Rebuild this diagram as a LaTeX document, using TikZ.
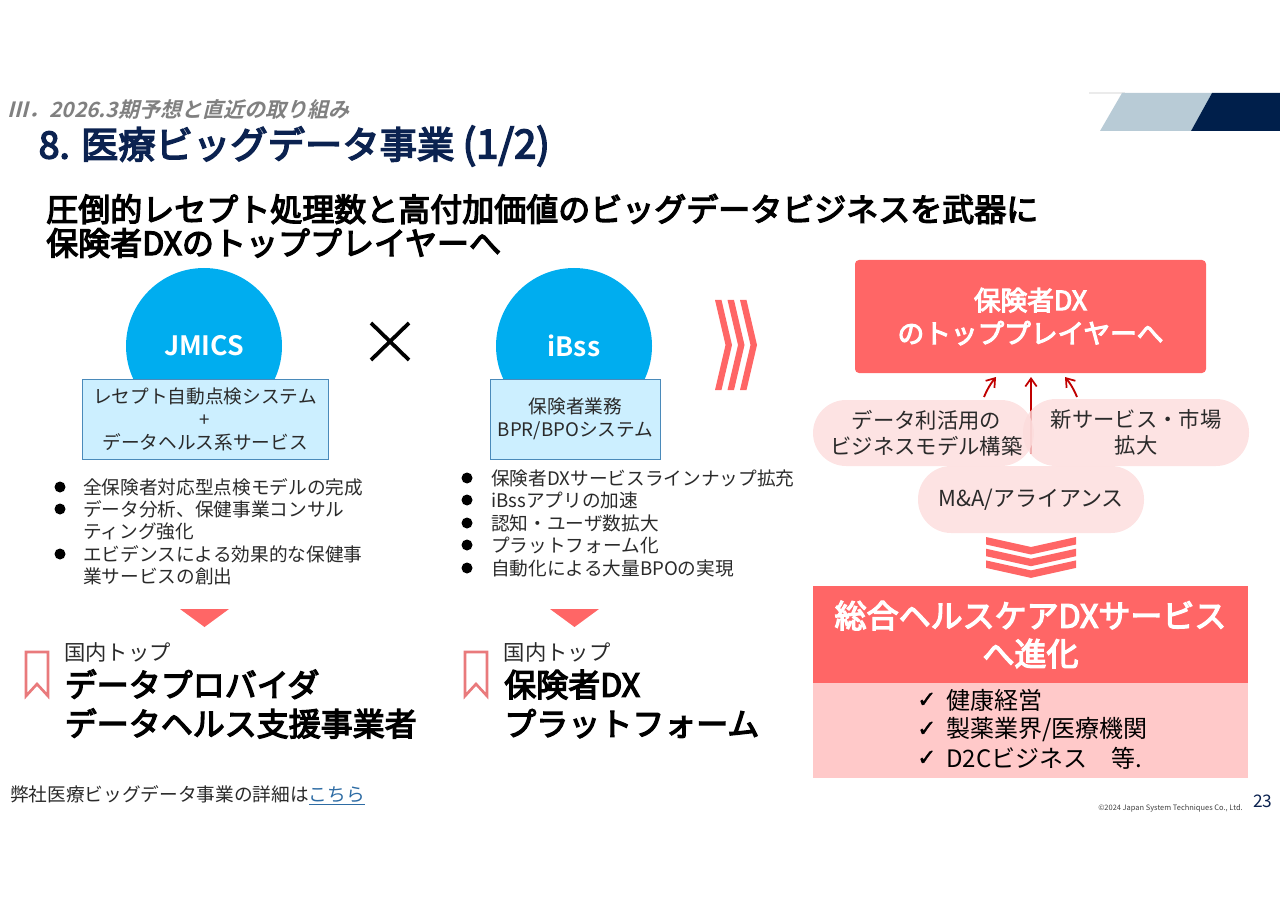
\documentclass[tikz,border=0pt]{standalone}
\usepackage{fontspec}
\usetikzlibrary{arrows.meta}
\setmainfont[BoldFont={Noto Sans CJK JP},BoldFeatures={FakeBold=4}]{Noto Sans CJK JP}
\newfontfamily\slfont[FakeSlant=0.25]{Noto Sans CJK JP Bold}
\newfontfamily\heavyfont{Noto Sans CJK JP Bold}
\newfontfamily\chkfont[FakeBold=1.5]{DejaVu Sans}
\newcommand{\tfs}[2]{\fontsize{#1}{#2}\selectfont}
\definecolor{coral}{HTML}{FF6666}
\definecolor{navy}{HTML}{0B2250}
\definecolor{band}{HTML}{001F4B}
\definecolor{bandl}{HTML}{B8CBD6}
\definecolor{sky}{HTML}{00ADEF}
\definecolor{skyl}{HTML}{CCEFFF}
\definecolor{skyb}{HTML}{4A8ABA}
\definecolor{pill}{HTML}{FCDCDC}
\definecolor{softp}{HTML}{FFC9C9}
\definecolor{arrowred}{HTML}{C00000}
\definecolor{ink}{HTML}{2A2A2A}
\definecolor{mark}{HTML}{E97A7C}
\definecolor{linkc}{HTML}{2E6CA4}
\pgfdeclarelayer{bg}
\pgfsetlayers{bg,main}
\tikzset{
  txt/.style={inner sep=0pt,anchor=west,align=left,text=ink},
  ctr/.style={inner sep=0pt,anchor=center,align=center},
  listtxt/.style={txt,font=\tfs{14}{16.9}},
  dot/.style={circle,fill=black,inner sep=0pt,minimum size=8.25pt},
  disc/.style={circle,fill=sky,inner sep=0pt,minimum size=117pt,text=white,font=\tfs{20}{24}\heavyfont},
  skybox/.style={draw=skyb,line width=0.6pt,fill=skyl,inner sep=0pt,align=center,text=ink,font=\tfs{14}{17.25}},
  pillbox/.style={fill=pill,fill opacity=.8,text opacity=1,text=ink,rounded corners=24.8pt,inner sep=0pt,align=center,font=\tfs{16}{19.5}},
  redarrow/.style={arrowred,line width=1.4pt,-{Straight Barb[length=6pt,width=8.5pt,line width=1.3pt]}},
  lead/.style={txt,text=black,font=\tfs{24}{29.25}\bfseries},
  toptag/.style={txt,font=\tfs{16}{19}},
  bookmk/.style={draw=mark,line width=2pt,miter limit=4},
  coralshape/.style={fill=coral,draw=none}
}
\begin{document}
\begin{tikzpicture}[x=0.75pt,y=-0.75pt]
\useasboundingbox (0,0) rectangle (1280,905);
% header band
\draw[color=black!8,line width=0.8pt] (1089,93) -- (1125,93);
\fill[bandl] (1122,93) -- (1212,93) -- (1191,131) -- (1100,131) -- cycle;
\fill[band] (1212,93) -- (1280,93) -- (1280,131) -- (1191,131) -- cycle;
% titles
\node[txt,text=black!50] (sub) at (7,110) {\tfs{15.75}{19}\slfont Ⅲ．2026.3期予想と直近の取り組み};
\node[txt,text=navy] (title) at (38.5,146) {\tfs{28}{33}\bfseries 8. 医療ビッグデータ事業 \tfs{30}{33}(1/2)};
\node[lead] (head1) at (46,209) {圧倒的レセプト処理数と高付加価値のビッグデータビジネスを武器に};
\node[lead] (head2) at (46,243) {保険者DXのトッププレイヤーへ};
% JMICS column
\node[disc] (cj) at (204,346) {JMICS};
\node[skybox,minimum width=184.5pt,minimum height=60pt] (bj) at (205,419) {レセプト自動点検システム\\+\\データヘルス系サービス};
\node[dot] (dj1) at (60,487) {};
\node[listtxt] (tj1) at (83,487) {全保険者対応型点検モデルの完成};
\node[dot] (dj2) at (60,509) {};
\node[listtxt] (tj2) at (83,520.5) {データ分析、保健事業コンサル\\ティング強化};
\node[dot] (dj3) at (60,554) {};
\node[listtxt] (tj3) at (83,565.5) {エビデンスによる効果的な保健事\\業サービスの創出};
% cross
\draw[line width=2.8pt,color=black] (371,323) -- (409,360) (409,323) -- (371,360);
% iBss column
\node[disc] (ci) at (574,346) {iBss};
\node[skybox,minimum width=127.5pt,minimum height=60pt] (bi) at (575.5,419) {保険者業務\\BPR/BPOシステム};
\node[dot] (di1) at (467,478) {};
\node[listtxt] (ti1) at (491,478) {保険者DXサービスラインナップ拡充};
\node[dot] (di2) at (467,500) {};
\node[listtxt] (ti2) at (491,500) {iBssアプリの加速};
\node[dot] (di3) at (467,523) {};
\node[listtxt] (ti3) at (491,523) {認知・ユーザ数拡大};
\node[dot] (di4) at (467,545) {};
\node[listtxt] (ti4) at (491,545) {プラットフォーム化};
\node[dot] (di5) at (467,568) {};
\node[listtxt] (ti5) at (491,568) {自動化による大量BPOの実現};
% right chevrons
\foreach \xo in {715,727.5,740}{
  \fill[coral] (\xo,300) -- ++(6.5,0) -- ++(10.5,45) -- ++(-10.5,45) -- ++(-6.5,0) -- ++(10.5,-45) -- cycle;
}
% down triangles
\fill[coral] (180,609) -- (229,609) -- (204.5,627) -- cycle;
\fill[coral] (550,609) -- (599,609) -- (574.5,627) -- cycle;
% bookmarks
\draw[bookmk] (26,652) -- (48,652) -- (48,696) -- (37,684) -- (26,696) -- cycle;
\draw[bookmk] (465,652) -- (487,652) -- (487,696) -- (476,684) -- (465,696) -- cycle;
% result labels
\node[toptag] (tl1) at (64,652) {国内トップ};
\node[lead] (tl2) at (64.5,704) {データプロバイダ\\データヘルス支援事業者};
\node[toptag] (tr1) at (503.5,652) {国内トップ};
\node[lead] (tr2) at (504,704) {保険者DX\\プラットフォーム};
% footer
\node[txt] (foot) at (10,795) {\tfs{14}{17}弊社医療ビッグデータ事業の詳細は\textcolor{linkc}{\underline{こちら}}};
\node[txt,anchor=east,text=black!75] (copy) at (1243,808) {\tfs{5.6}{7}©2024 Japan System Techniques Co., Ltd.};
\node[txt,text=navy] (pg) at (1253,801) {\tfs{13}{15}23};
% right column
\node[fill=coral,rounded corners=3pt,minimum width=263.25pt,minimum height=84.75pt,inner sep=0pt,text=white,align=center,font=\tfs{20}{24.75}\bfseries] (dx) at (1030.5,316.5) {\raisebox{1pt}{保険者DX}\\\raisebox{1pt}{のトッププレイヤーへ}};
\node[pillbox,minimum width=165.75pt,minimum height=49.5pt] (p1) at (923.5,433) {\hspace*{4.5pt}データ利活用の\\\hspace*{4.5pt}ビジネスモデル構築};
\node[pillbox,minimum width=169.5pt,minimum height=50.25pt] (p2) at (1136,432.5) {新サービス・市場\\拡大};
\node[pillbox,minimum width=169.5pt,minimum height=50.25pt] (p3) at (1031,499.5) {\tfs{16.5}{19.5}M\&A/アライアンス};
\coordinate (a1s) at (984,397);
\coordinate (a1e) at (996,377);
\coordinate (a2s) at (1031,454);
\coordinate (a2e) at (1031,377);
\coordinate (a3s) at (1077,397);
\coordinate (a3e) at (1065,377);
\begin{pgfonlayer}{bg}
\draw[redarrow] (a1s) to[bend left=8] (a1e);
\draw[redarrow] (a2s) -- (a2e);
\draw[redarrow] (a3s) to[bend right=8] (a3e);
\end{pgfonlayer}
% down chevrons
\foreach \yo in {537,548.7,560.4}{
  \fill[coral] (986,\yo) -- (1031,\yo+10) -- (1076,\yo) -- (1076,\yo+7.5) -- (1031,\yo+17.5) -- (986,\yo+7.5) -- cycle;
}
% bottom panel
\node[fill=coral,minimum width=326.25pt,minimum height=72.75pt,inner sep=0pt,text=white,align=center,font=\tfs{24}{28.5}\bfseries] (hc) at (1030.5,634.5) {\raisebox{-1pt}{総合ヘルスケアDXサービス}\\\raisebox{-1pt}{へ進化}};
\node[fill=softp,minimum width=326.25pt,minimum height=71.25pt,inner sep=0pt] (hb) at (1030.5,730.5) {};
\node[txt,text=black] (c1) at (917,700) {\tfs{17}{18}\chkfont ✓};
\node[txt,text=black] (l1) at (946,700) {\tfs{18}{21.75}健康経営};
\node[txt,text=black] (c2) at (917,729) {\tfs{17}{18}\chkfont ✓};
\node[txt,text=black] (l2) at (946,730) {\tfs{18}{21.75}製薬業界/医療機関};
\node[txt,text=black] (c3) at (917,758) {\tfs{17}{18}\chkfont ✓};
\node[txt,text=black] (l3) at (946,758) {\tfs{18}{21.75}D2Cビジネス　等.};
\end{tikzpicture}
\end{document}
